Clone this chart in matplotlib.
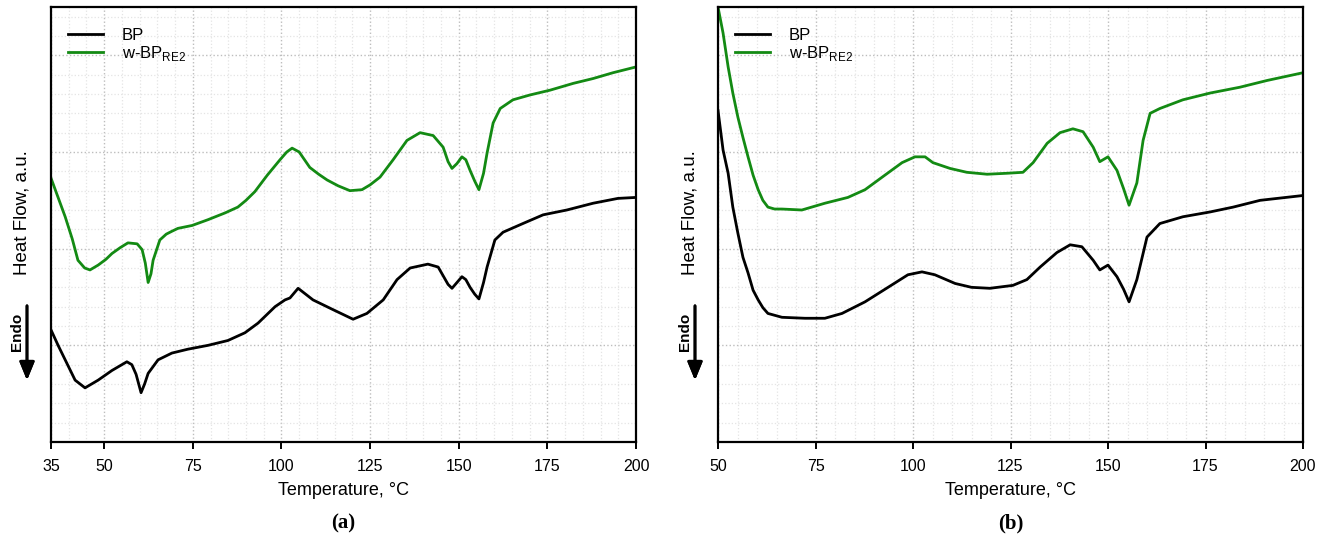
import matplotlib
matplotlib.use('Agg')
import matplotlib.pyplot as plt
from matplotlib.ticker import MultipleLocator, FixedLocator

plt.rcParams['font.family'] = ['Liberation Sans', 'DejaVu Sans']

# panel (a): temperature, degC / heat flow, a.u.
a_bp_t = [35, 37, 39, 41.8, 44.6, 48.3, 52.2, 56.4, 57.8, 59.0, 60.4, 61.4, 62.4,
          65.2, 69.1, 73.6, 79.3, 84.9, 89.7, 93.4, 98.2, 101, 102.4, 104.7, 108.9,
          114.5, 120.2, 124.1, 128.7, 132.6, 136.3, 141.3, 144.2, 147, 148.1, 149.5,
          150.9, 152, 153.2, 154.5, 155.7, 157, 158, 160.2, 162.5, 168.1, 173.8,
          180.5, 187.9, 194.9, 200]
a_bp_v = [1.16, 1.00, 0.85, 0.64, 0.56, 0.64, 0.74, 0.83, 0.80, 0.70, 0.51, 0.60, 0.71,
          0.85, 0.92, 0.96, 1.00, 1.05, 1.13, 1.23, 1.40, 1.47, 1.49, 1.59, 1.47,
          1.37, 1.27, 1.33, 1.47, 1.68, 1.80, 1.84, 1.81, 1.63, 1.59, 1.65,
          1.71, 1.68, 1.60, 1.53, 1.48, 1.65, 1.81, 2.09, 2.17, 2.26, 2.35,
          2.40, 2.47, 2.52, 2.53]

a_re_t = [35, 37, 39, 41, 42.6, 44.5, 46.0, 48.3, 50.5, 52.2, 54.5, 56.7, 59.3, 60.7,
          61.6, 62.4, 63.2, 63.8, 65.7, 67.5, 69.1, 70.8, 74.8, 79.3, 84.1, 87.7, 90,
          92.5, 96, 99.6, 101.5, 103, 105, 108, 110.5, 112.9, 116, 119.3, 122.7, 125,
          127.8, 131.5, 135.4, 139.1, 142.8, 145.6, 147, 148.1, 149.5, 150.9, 152,
          153.2, 154.5, 155.7, 157, 158, 159.7, 161.7, 165.3, 170.1, 175.8, 182.3,
          187.9, 193.5, 200]
a_re_v = [2.73, 2.53, 2.33, 2.10, 1.88, 1.80, 1.78, 1.83, 1.89, 1.95, 2.01, 2.06, 2.05, 1.99,
          1.85, 1.65, 1.74, 1.88, 2.09, 2.15, 2.18, 2.21, 2.24, 2.30, 2.37, 2.43, 2.50,
          2.59, 2.76, 2.92, 3.00, 3.04, 3.00, 2.84, 2.77, 2.71, 2.65, 2.60, 2.61, 2.66,
          2.74, 2.92, 3.12, 3.20, 3.17, 3.05, 2.90, 2.83, 2.88, 2.95, 2.92,
          2.81, 2.70, 2.61, 2.78, 2.99, 3.30, 3.45, 3.54, 3.59, 3.64, 3.71,
          3.76, 3.82, 3.88]

# panel (b)
b_bp_t = [50, 51.3, 52.6, 53.8, 55.1, 56.4, 57.7, 59, 60.3, 61.5, 62.8, 66.4, 72.3, 77.4,
          81.8, 87.7, 93.6, 98.7, 102.3, 105.6, 110.8, 115, 119.7, 125.6, 129.2, 132.6,
          136.9, 140.3, 143.3, 146.2, 147.9, 150, 152.3, 154, 155.4, 157.4, 160, 163.3,
          169.2, 176.2, 182.1, 189, 200]
b_bp_v = [3.43, 3.02, 2.78, 2.43, 2.16, 1.91, 1.75, 1.57, 1.47, 1.39, 1.33, 1.29, 1.28, 1.28,
          1.33, 1.45, 1.60, 1.73, 1.76, 1.73, 1.64, 1.60, 1.59, 1.62, 1.68, 1.81,
          1.96, 2.04, 2.02, 1.88, 1.78, 1.83, 1.71, 1.58, 1.45, 1.68, 2.12, 2.26,
          2.33, 2.38, 2.43, 2.50, 2.55]

b_re_t = [50, 51.3, 52.6, 53.8, 55.1, 56.4, 57.7, 59, 60.3, 61.5, 62.8, 64.5, 66.4, 71.5,
          77.4, 83.3, 87.7, 92.1, 97.2, 100.5, 103.1, 105.1, 109.5, 113.8, 119, 124.1,
          128.2, 130.8, 134.4, 137.7, 141, 143.6, 146.2, 147.9, 150, 152.3, 154, 155.4,
          157.4, 159, 160.8, 163.3, 169.2, 176.2, 183.8, 190.8, 200]
b_re_v = [4.50, 4.23, 3.88, 3.61, 3.36, 3.15, 2.95, 2.76, 2.61, 2.50, 2.43, 2.41, 2.41, 2.40,
          2.47, 2.53, 2.61, 2.74, 2.89, 2.95, 2.95, 2.89, 2.83, 2.79, 2.77, 2.78,
          2.79, 2.89, 3.09, 3.20, 3.24, 3.21, 3.05, 2.90, 2.95, 2.81, 2.62, 2.45,
          2.68, 3.12, 3.40, 3.45, 3.54, 3.61, 3.67, 3.74, 3.82]

a_ticks = [35, 50, 75, 100, 125, 150, 175, 200]
b_ticks = [50, 75, 100, 125, 150, 175, 200]
labels = ['BP', r'w-BP$_\mathregular{RE2}$']
green = '#138a13'

fig = plt.figure(figsize=(13.22, 5.44), dpi=100)
ax_a = fig.add_axes([51 / 1322, 102 / 544, 585 / 1322, 435 / 544])
ax_b = fig.add_axes([718 / 1322, 102 / 544, 585 / 1322, 435 / 544])

panels = [
    (ax_a, a_bp_t, a_bp_v, a_re_t, a_re_v, a_ticks, '(a)', 22),
    (ax_b, b_bp_t, b_bp_v, b_re_t, b_re_v, b_ticks, '(b)', 690),
]

for ax, bt, bv, rt, rv, ticks, tag, ylx in panels:
    ax.plot(bt, bv, color='black', lw=2.0, label=labels[0])
    ax.plot(rt, rv, color=green, lw=2.0, label=labels[1])
    ax.set_xlim(ticks[0], 200)
    ax.set_ylim(0, 4.5)
    ax.xaxis.set_major_locator(FixedLocator(ticks))
    ax.xaxis.set_minor_locator(MultipleLocator(5))
    ax.yaxis.set_major_locator(MultipleLocator(1))
    ax.yaxis.set_minor_locator(MultipleLocator(0.2))
    ax.grid(which='major', color='#bdbdbd', ls=':', lw=1.0)
    ax.grid(which='minor', color='#e4e4e4', ls=':', lw=0.9)
    ax.set_axisbelow(True)
    for s in ax.spines.values():
        s.set_linewidth(1.6)
    ax.tick_params(axis='x', which='major', direction='out', length=5, width=1.4,
                   labelsize=11.5, pad=7)
    ax.tick_params(axis='x', which='minor', length=0)
    ax.tick_params(axis='y', which='both', length=0, labelleft=False)
    ax.set_xlabel('Temperature, °C', fontsize=13, labelpad=6)
    ax.legend(loc='upper left', bbox_to_anchor=(0.018, 0.967), borderaxespad=0,
              frameon=False, fontsize=12, handlelength=2.1, handletextpad=1.1,
              labelspacing=0.05)

    x0 = ax.get_position().x0
    x1 = ax.get_position().x1
    fig.text((x0 + x1) / 2, 1 - 523 / 544, tag, ha='center', va='center',
             fontsize=15, fontweight='bold', family='Liberation Serif')
    fig.text(ylx / 1322, 1 - 213 / 544, 'Heat Flow, a.u.', rotation=90,
             ha='center', va='center', fontsize=13.5)
    fig.text((ylx - 5) / 1322, 1 - 332 / 544, 'Endo', rotation=90, ha='center',
             va='center', fontsize=11, fontweight='bold')
    ax_x = (ylx + 5) / 1322
    fig.add_artist(plt.annotate('', xy=(ax_x, 1 - 383 / 544), xytext=(ax_x, 1 - 303 / 544),
                                xycoords='figure fraction',
                                arrowprops=dict(arrowstyle='-|>,head_length=1.1,head_width=0.45',
                                                color='black', lw=2)))

fig.savefig('out.png', dpi=100)
